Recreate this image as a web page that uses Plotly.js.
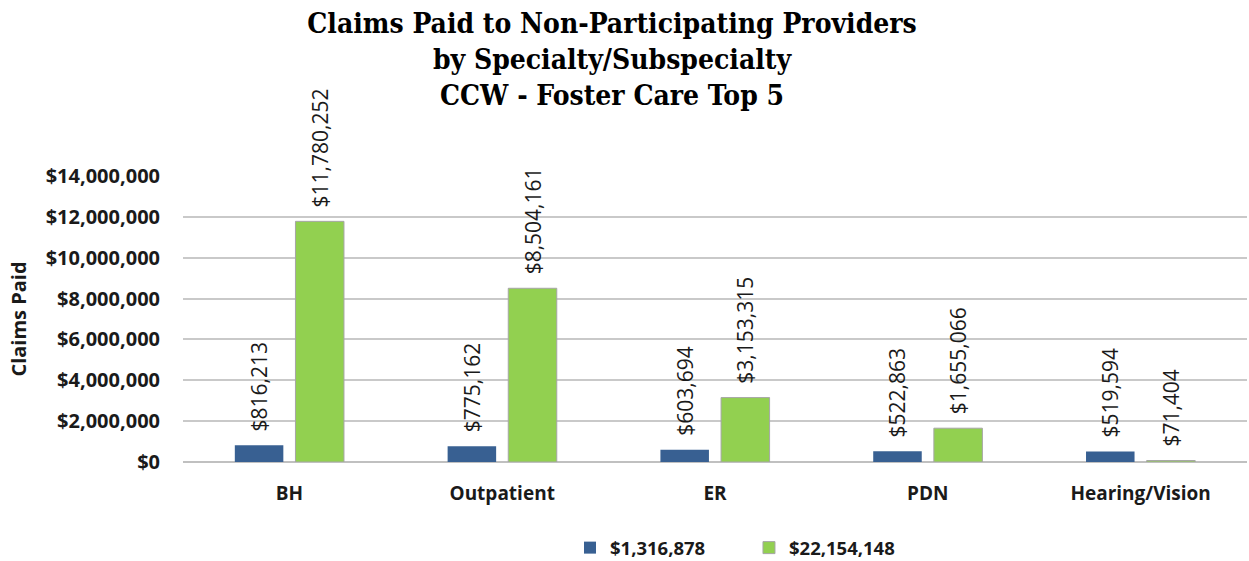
<!DOCTYPE html>
<html>
<head>
<meta charset="utf-8">
<script src="https://cdn.plot.ly/plotly-3.0.1.min.js"></script>
<style>html,body{margin:0;padding:0;background:#fff;}#chart{width:1249px;height:561px;}</style>
</head>
<body>
<div id="chart"></div>
<script>
const categories = ["BH", "Outpatient", "ER", "PDN", "Hearing/Vision"];
const seriesNames = ["$1,316,878", "$22,154,148"];
const seriesA = [816213, 775162, 603694, 522863, 519594];
const seriesB = [11780252, 8504161, 3153315, 1655066, 71404];
const tickVals = [0, 2000000, 4000000, 6000000, 8000000, 10000000, 12000000, 14000000];
const tickText = ["$0", "$2,000,000", "$4,000,000", "$6,000,000", "$8,000,000", "$10,000,000", "$12,000,000", "$14,000,000"];

const fmt = v => "\u00a0\u00a0$" + v.toLocaleString("en-US");
const labelFont = {family: "'Open Sans', sans-serif", size: 21, color: "#1a1a1a"};

const traces = [
  {type: "bar", name: seriesNames[0], x: categories, y: seriesA,
   marker: {color: "#386092", line: {width: 0}},
   text: seriesA.map(fmt), textposition: "outside", textangle: -90,
   textfont: labelFont, constraintext: "none", cliponaxis: false, hoverinfo: "none"},
  {type: "bar", name: seriesNames[1], x: categories, y: seriesB,
   marker: {color: "#92D050", line: {color: "#a6a6a6", width: 1}},
   text: seriesB.map(fmt), textposition: "outside", textangle: -90,
   textfont: labelFont, constraintext: "none", cliponaxis: false, hoverinfo: "none"}
];

const layout = {
  width: 1249, height: 561,
  paper_bgcolor: "#fff", plot_bgcolor: "#fff",
  margin: {l: 183, r: 2, t: 176, b: 99, autoexpand: false},
  barmode: "group", bargap: 0.43, bargroupgap: 0.2,
  showlegend: true,
  title: {
    text: "Claims Paid to Non-Participating Providers<br>by Specialty/Subspecialty<br>CCW - Foster Care Top 5",
    font: {family: "'DejaVu Serif Condensed', 'DejaVu Serif', serif", size: 28, color: "#000", weight: "bold"},
    x: 0.49, xanchor: "center", xref: "container",
    y: 0.942, yanchor: "top", yref: "container"
  },
  xaxis: {
    type: "category", showgrid: false, zeroline: false, showline: false,
    ticks: "", ticklabelstandoff: 18,
    tickfont: {family: "'Open Sans', sans-serif", size: 19, color: "#1a1a1a", weight: "bold"}
  },
  yaxis: {
    range: [0, 14000000], tickvals: tickVals, ticktext: tickText,
    showgrid: true, gridcolor: "#c9c9c9", gridwidth: 2,
    zeroline: true, zerolinecolor: "#c0c0c0", zerolinewidth: 2,
    ticks: "", ticklabelstandoff: 22,
    tickfont: {family: "'Open Sans', sans-serif", size: 20, color: "#1a1a1a", weight: "bold"},
    title: {text: "Claims Paid", standoff: 13,
      font: {family: "'Open Sans', sans-serif", size: 20, color: "#1a1a1a", weight: "bold"}}
  },
  legend: {
    orientation: "h", x: 0.3637, xanchor: "left", y: 0.023, yanchor: "middle", yref: "container",
    entrywidth: 134, entrywidthmode: "pixels",
    font: {family: "'Open Sans', sans-serif", size: 18.5, color: "#1a1a1a", weight: "bold"},
    itemclick: false
  }
};

Plotly.newPlot("chart", traces, layout, {displayModeBar: false, staticPlot: true});
</script>
</body>
</html>
